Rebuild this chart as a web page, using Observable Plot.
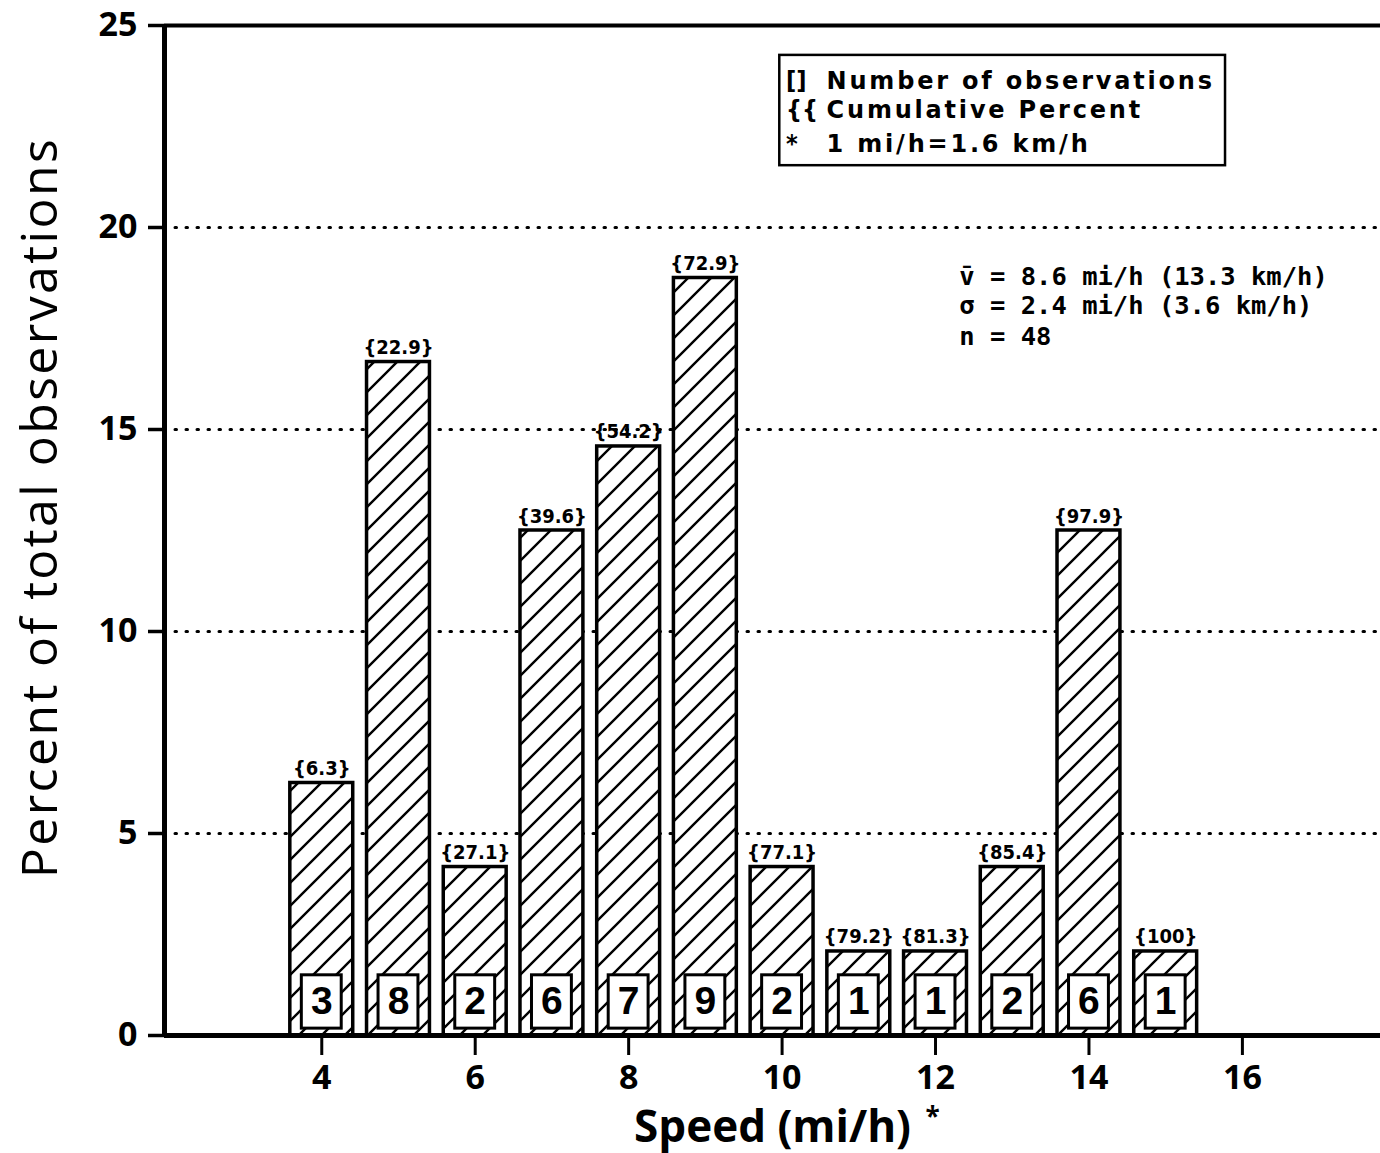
<!DOCTYPE html>
<html>
<head>
<meta charset="utf-8">
<script src="https://cdn.jsdelivr.net/npm/d3@7"></script>
<script src="https://cdn.jsdelivr.net/npm/@observablehq/plot@0.6"></script>
<style>
  body { margin: 0; background: #fff; }
  .legend text { letter-spacing: 2.8px; }
  .ytitle text { letter-spacing: 2.4px; }
</style>
</head>
<body>
<div id="chart"></div>
<script>
// Speed classes (mi/h) and observations per class
const speeds = [4, 5, 6, 7, 8, 9, 10, 11, 12, 13, 14, 15];
const counts = [3, 8, 2, 6, 7, 9, 2, 1, 1, 2, 6, 1];
// Percent of total observations (n = 48)
const percents = [6.25, 16.67, 4.17, 12.5, 14.58, 18.75, 4.17, 2.08, 2.08, 4.17, 12.5, 2.08];
// Cumulative percent printed above each bar
const cumulative = ["6.3", "22.9", "27.1", "39.6", "54.2", "72.9", "77.1", "79.2", "81.3", "85.4", "97.9", "100"];

const yTicks = [0, 5, 10, 15, 20, 25];
const gridLines = [5, 10, 15, 20];
const xTicks = [4, 6, 8, 10, 12, 14, 16];

const legendSymbols = ["[]", "{{", "*"];
const legendLines = ["Number of observations", "Cumulative Percent", "1 mi/h=1.6 km/h"];
const statLines = ["v\u0304 = 8.6 mi/h (13.3 km/h)", "σ = 2.4 mi/h (3.6 km/h)", "n = 48"];

const bins = speeds.map((s, i) => ({speed: s, count: counts[i], percent: percents[i], cum: cumulative[i]}));

const X0 = 1.95, X1 = 17.8;
const legendY = [23.44, 22.70, 21.86];
const statY = [18.57, 17.87, 17.08];

const svg = Plot.plot({
  width: 1380,
  height: 1153,
  marginLeft: 164,
  marginRight: 0,
  marginTop: 25,
  marginBottom: 118,
  style: {fontFamily: "'Open Sans', sans-serif", background: "white", color: "black"},
  x: {domain: [X0, X1]},
  y: {domain: [0, 25]},
  marks: [
    // dotted reference lines
    Plot.ruleY(gridLines, {stroke: "black", strokeWidth: 3, strokeDasharray: "1.5,9.5", strokeLinecap: "round"}),
    // hatched bars
    Plot.rect(bins, {
      x1: d => d.speed - 0.41, x2: d => d.speed + 0.41, y1: 0, y2: "percent",
      fill: "url(#hatch)", stroke: "black", strokeWidth: 3.5
    }),
    // boxed observation counts
    Plot.rect(bins, {
      x1: d => d.speed - 0.26, x2: d => d.speed + 0.26, y1: 0.17, y2: 1.49,
      fill: "white", stroke: "black", strokeWidth: 3
    }),
    Plot.text(bins, {
      x: "speed", y: 0.83, text: d => String(d.count),
      fontSize: 39, fontWeight: 600, fontFamily: "'Liberation Sans', sans-serif"
    }),
    // cumulative percent labels
    Plot.text(bins, {
      x: "speed", y: "percent", text: d => `{${d.cum}}`, dy: -8, lineAnchor: "bottom",
      fontSize: 20, fontWeight: "bold", fontFamily: "'DejaVu Sans Condensed', 'Liberation Sans Narrow', 'DejaVu Sans', sans-serif"
    }),
    // frame
    Plot.ruleX([X0], {strokeWidth: 5}),
    Plot.ruleY([25], {strokeWidth: 4}),
    Plot.ruleY([0], {strokeWidth: 5}),
    // axes
    Plot.axisY(yTicks, {tickSize: 16, tickPadding: 11, fontSize: 34, fontWeight: "bold", strokeWidth: 3.5, label: null}),
    Plot.axisX(xTicks, {tickSize: 20, tickPadding: 9, fontSize: 34, fontWeight: "bold", strokeWidth: 3, label: null}),
    // key box
    Plot.rect([0], {x1: 9.97, x2: 15.78, y1: 21.53, y2: 24.26, fill: "white", stroke: "black", strokeWidth: 2.5}),
    Plot.text(legendSymbols, {
      x: 10.05, y: (d, i) => legendY[i], text: d => d, textAnchor: "start", lineAnchor: "bottom",
      fontSize: 25, fontWeight: "bold", fontFamily: "'DejaVu Sans Condensed', 'DejaVu Sans', sans-serif"
    }),
    Plot.text(legendLines, {
      x: 10.58, y: (d, i) => legendY[i], text: d => d, textAnchor: "start", lineAnchor: "bottom",
      fontSize: 24, fontWeight: "bold", fontFamily: "'DejaVu Sans', sans-serif", className: "legend"
    }),
    // summary statistics
    Plot.text(statLines, {
      x: 12.31, y: (d, i) => statY[i], text: d => d, textAnchor: "start", lineAnchor: "bottom",
      fontSize: 25.5, fontWeight: "bold", fontFamily: "'DejaVu Sans Mono', monospace"
    }),
    // axis titles
    Plot.text(["Percent of total observations"], {
      frameAnchor: "left", textAnchor: "middle", lineAnchor: "middle",
      dx: -124, dy: -23, rotate: -90, fontSize: 50, fontWeight: 500, className: "ytitle"
    }),
    Plot.text(["Speed (mi/h)"], {
      frameAnchor: "bottom", textAnchor: "middle", dy: 106, lineAnchor: "bottom", fontSize: 44, fontWeight: "bold"
    }),
    Plot.text(["*"], {
      frameAnchor: "bottom", textAnchor: "middle", dx: 160, dy: 90, lineAnchor: "bottom", fontSize: 26, fontWeight: "bold"
    })
  ]
});

// diagonal hatching used by the bars
const defs = document.createElementNS("http://www.w3.org/2000/svg", "defs");
defs.innerHTML = `<pattern id="hatch" patternUnits="userSpaceOnUse" width="23" height="23">
  <rect width="23" height="23" fill="white"/>
  <path d="M-3,3L3,-3M0,23L23,0M20,26L26,20" stroke="black" stroke-width="2.4"/>
</pattern>`;
svg.prepend(defs);

document.getElementById("chart").appendChild(svg);
</script>
</body>
</html>
